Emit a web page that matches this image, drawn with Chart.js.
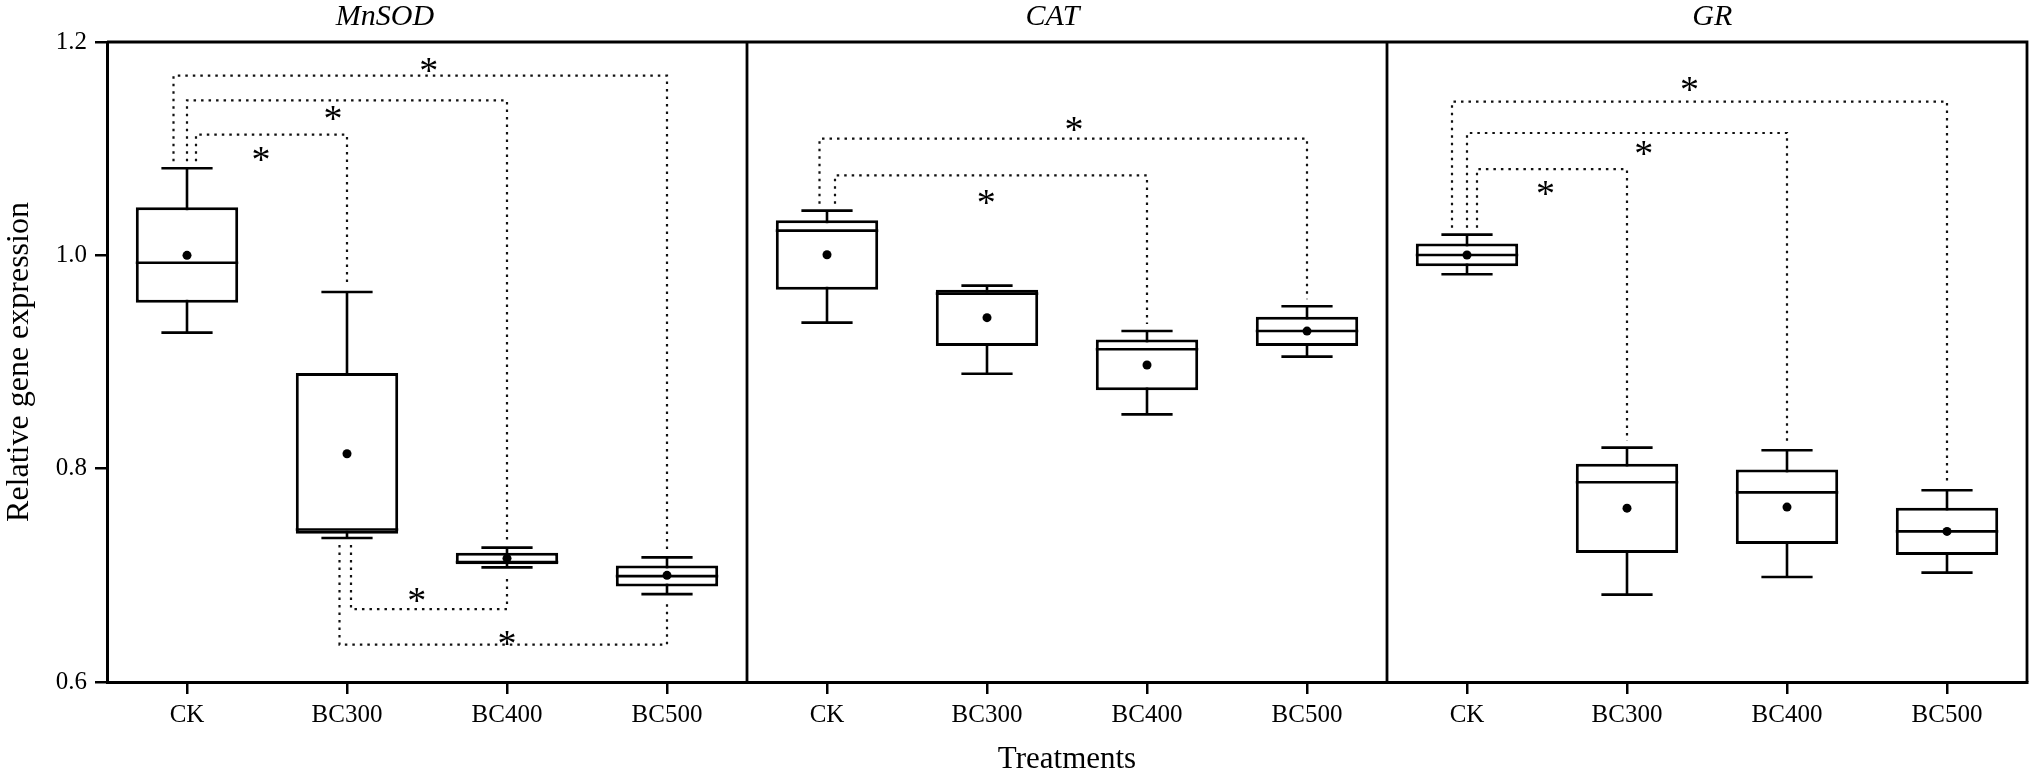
<!DOCTYPE html>
<html>
<head>
<meta charset="utf-8">
<script src="https://cdn.jsdelivr.net/npm/chart.js@4.4.1/dist/chart.umd.min.js"></script>
<style>
  html, body { margin: 0; padding: 0; background: #fff; }
  #wrap { width: 2032px; height: 778px; }
</style>
</head>
<body>
<div id="wrap"><canvas id="genes" width="2032" height="778"></canvas></div>
<script>
// panels and treatments
const genes = ['MnSOD', 'CAT', 'GR'];
const treatments = ['CK', 'BC300', 'BC400', 'BC500'];

// box plot values, 4 treatments per gene (MnSOD, CAT, GR)
const whiskerLow  = [0.9275, 0.735, 0.7075, 0.6824,  0.9369, 0.889, 0.8509, 0.905,  0.9822, 0.6819, 0.6984, 0.7025];
const quart1      = [0.9556, 0.739, 0.7103, 0.6896,  0.9678, 0.915, 0.8734, 0.915,  0.9897, 0.7209, 0.7293, 0.7191];
const medians     = [0.993,  0.743, 0.7124, 0.6993,  1.0232, 0.9641, 0.9119, 0.929, 1.0003, 0.7872, 0.7778, 0.7412];
const quart3      = [1.045,  0.8897, 0.7212, 0.7093, 1.0328, 0.9678, 0.9212, 0.9425, 1.0112, 0.8047, 0.7993, 0.7634];
const whiskerHigh = [1.0816, 0.9656, 0.726, 0.7168,  1.0419, 0.9716, 0.929, 0.9522,  1.0194, 0.8197, 0.8172, 0.7797];
const means       = [1.0,    0.814, 0.7159, 0.700,   1.0006, 0.9416, 0.8972, 0.929,  1.0003, 0.763, 0.764, 0.7412];

// y axis ticks
const yTicks = [0.6, 0.8, 1.0, 1.2];

// significance brackets: from box, to box, bracket level, which side, star (category index, value)
const bracketFrom  = [0, 0, 0, 1, 1,   4, 4,   8, 8, 8];
const bracketTo    = [1, 2, 3, 2, 3,   6, 7,   9, 10, 11];
const bracketLevel = [1.1132, 1.1453, 1.1685, 0.6684, 0.635,   1.075, 1.1094,   1.0809, 1.1147, 1.1441];
const bracketUp    = [true, true, true, false, false,   true, true,   true, true, true];
const bracketLane  = [0.9, 0, -1.35, 0.4, -0.75,   0.8, -0.75,   1.0, 0, -1.5];
const starX        = [0.462, 0.912, 1.511, 1.436, 2.0,   4.995, 5.543,   8.491, 9.104, 9.390];
const starY        = [1.0947, 1.1331, 1.1782, 0.6812, 0.6416,   1.0547, 1.1235,   1.0631, 1.1006, 1.1603];

// where the gene names sit, in category index units
const titleX = [1.237, 5.409, 9.533];

const labels = [];
genes.forEach(() => treatments.forEach(t => labels.push(t)));
const boxes = quart1.map((q, i) => [q, quart3[i]]);

const serif = "'Liberation Serif', 'Times New Roman', serif";
Chart.defaults.font.family = serif;
Chart.defaults.color = '#000';

const boxPlugin = {
  id: 'boxParts',
  beforeDatasetsDraw(chart) {
    const ctx = chart.ctx;
    const x = chart.scales.x, y = chart.scales.y;
    const meta = chart.getDatasetMeta(0);
    const gap = 7, lane = 10;
    ctx.save();
    // dotted brackets
    ctx.strokeStyle = '#111';
    ctx.lineWidth = 2.2;
    ctx.setLineDash([2.5, 5]);
    bracketFrom.forEach((a, k) => {
      const b = bracketTo[k];
      const xa = x.getPixelForValue(a) + bracketLane[k] * lane;
      const xb = x.getPixelForValue(b);
      const yl = y.getPixelForValue(bracketLevel[k]);
      let ya, yb;
      if (bracketUp[k]) {
        ya = y.getPixelForValue(whiskerHigh[a]) - gap;
        yb = y.getPixelForValue(whiskerHigh[b]) - gap;
      } else {
        ya = y.getPixelForValue(whiskerLow[a]) + gap;
        yb = y.getPixelForValue(whiskerLow[b]) + gap;
      }
      ctx.beginPath();
      ctx.moveTo(xa, ya);
      ctx.lineTo(xa, yl);
      ctx.lineTo(xb, yl);
      ctx.lineTo(xb, yb);
      ctx.stroke();
    });
    ctx.setLineDash([]);
    // whiskers
    ctx.strokeStyle = '#000';
    ctx.lineWidth = 2.6;
    meta.data.forEach((bar, i) => {
      const cx = x.getPixelForValue(i);
      const half = bar.width / 4;
      const lo = y.getPixelForValue(whiskerLow[i]);
      const hi = y.getPixelForValue(whiskerHigh[i]);
      ctx.beginPath();
      ctx.moveTo(cx, lo); ctx.lineTo(cx, hi);
      ctx.moveTo(cx - half, lo); ctx.lineTo(cx + half, lo);
      ctx.moveTo(cx - half, hi); ctx.lineTo(cx + half, hi);
      ctx.stroke();
    });
    ctx.restore();
  },
  afterDatasetDraw(chart, args) {
    if (args.index !== 0) return;
    const ctx = chart.ctx;
    const y = chart.scales.y;
    ctx.save();
    ctx.strokeStyle = '#000';
    ctx.lineWidth = 2.6;
    args.meta.data.forEach((bar, i) => {
      const my = y.getPixelForValue(medians[i]);
      ctx.beginPath();
      ctx.moveTo(bar.x - bar.width / 2, my);
      ctx.lineTo(bar.x + bar.width / 2, my);
      ctx.stroke();
    });
    ctx.restore();
  },
  afterDraw(chart) {
    const ctx = chart.ctx;
    const a = chart.chartArea;
    const x = chart.scales.x, y = chart.scales.y;
    ctx.save();
    ctx.strokeStyle = '#000';
    ctx.lineWidth = 2.8;
    ctx.beginPath();
    ctx.moveTo(a.left, a.top); ctx.lineTo(a.right, a.top); ctx.lineTo(a.right, a.bottom);
    for (let p = 1; p < genes.length; p++) {
      const px = x.getPixelForValue(p * treatments.length - 0.5);
      ctx.moveTo(px, a.top); ctx.lineTo(px, a.bottom);
    }
    ctx.stroke();
    // gene names
    ctx.fillStyle = '#000';
    ctx.textAlign = 'center';
    ctx.textBaseline = 'middle';
    ctx.font = 'italic 30px ' + serif;
    genes.forEach((g, p) => ctx.fillText(g, x.getPixelForValue(titleX[p]), 17));
    // stars
    ctx.font = '38px ' + serif;
    ctx.textBaseline = 'alphabetic';
    starX.forEach((sx, k) => {
      ctx.fillText('*', x.getPixelForValue(sx), y.getPixelForValue(starY[k]) + 18);
    });
    ctx.restore();
  }
};

new Chart(document.getElementById('genes'), {
  type: 'bar',
  data: {
    labels: labels,
    datasets: [
      {
        type: 'bar',
        data: boxes,
        backgroundColor: '#fff',
        borderColor: '#000',
        borderWidth: 3,
        borderSkipped: false,
        categoryPercentage: 0.8,
        barPercentage: 0.8,
        order: 2
      },
      {
        type: 'line',
        data: means,
        showLine: false,
        pointRadius: 4.5,
        pointBackgroundColor: '#000',
        pointBorderWidth: 0,
        order: 1
      }
    ]
  },
  options: {
    responsive: false,
    animation: false,
    layout: { padding: { top: 42, right: 5, left: 0, bottom: 0 } },
    plugins: {
      legend: { display: false },
      tooltip: { enabled: false }
    },
    scales: {
      x: {
        offset: true,
        grid: { drawOnChartArea: false, offset: false, tickLength: 12, color: '#000', lineWidth: 2.5 },
        border: { color: '#000', width: 3 },
        ticks: { font: { size: 25 }, padding: 6, maxRotation: 0, autoSkip: false },
        title: { display: true, text: 'Treatments', font: { size: 31 }, padding: { top: 0, bottom: 0 } },
        afterFit: s => { s.height = 96; }
      },
      y: {
        min: 0.6,
        max: 1.2,
        afterBuildTicks: s => { s.ticks = yTicks.map(v => ({ value: v })); },
        grid: { drawOnChartArea: false, tickLength: 12, color: '#000', lineWidth: 2.5 },
        border: { color: '#000', width: 3 },
        ticks: { font: { size: 25 }, padding: 8, callback: v => v.toFixed(1) },
        title: { display: true, text: 'Relative gene expression', font: { size: 32 }, padding: { top: 0, bottom: 0 } },
        afterFit: s => { s.width = 107; }
      }
    }
  },
  plugins: [boxPlugin]
});
</script>
</body>
</html>
